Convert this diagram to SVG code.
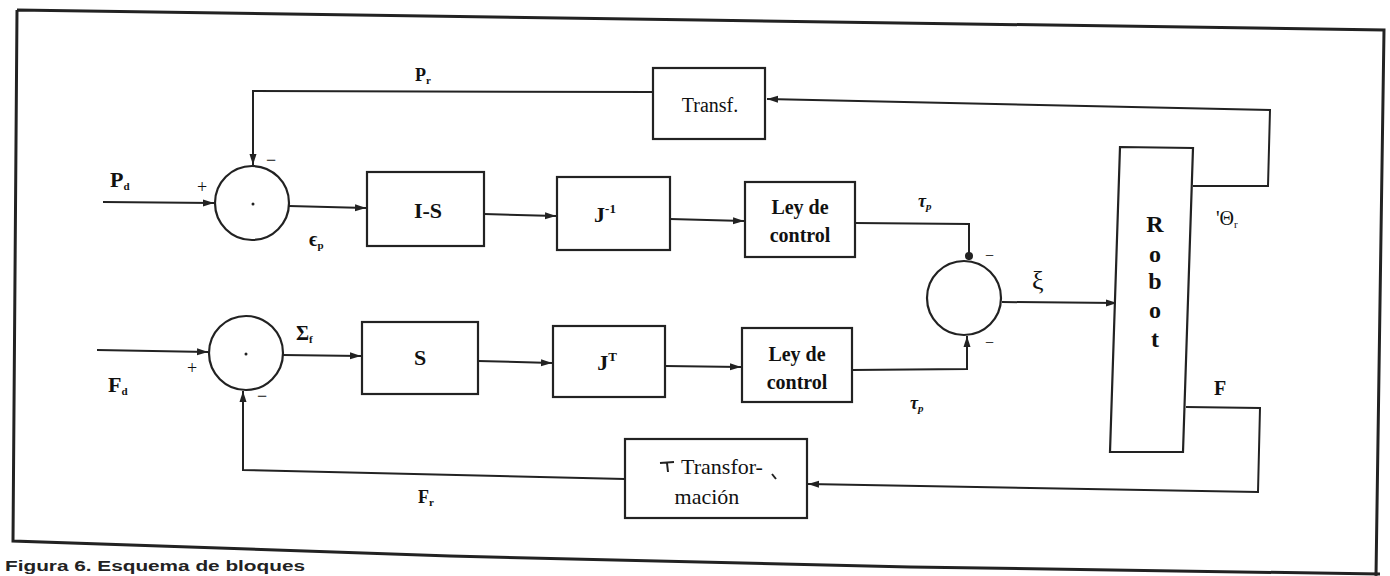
<svg xmlns="http://www.w3.org/2000/svg" width="1390" height="576" viewBox="0 0 1390 576">
<defs>
<marker id="arr" markerUnits="userSpaceOnUse" markerWidth="12" markerHeight="8" refX="11" refY="4" orient="auto">
<path d="M0,0.5 L11,4 L0,7.5 z" fill="#222"/>
</marker>
<style>
.ln{fill:none;stroke:#222;stroke-width:2}
.box{fill:#fff;stroke:#222;stroke-width:2.2}
.frame{fill:none;stroke:#222;stroke-width:3}
.t{font-family:"Liberation Serif",serif;fill:#111}
.b{font-weight:bold}
.lbl{font-family:"Liberation Serif",serif;fill:#111;font-weight:bold}
.sub{font-size:11px}
</style>
</defs>
<rect width="1390" height="576" fill="#fff"/>
<path class="frame" d="M17,10 L700,20 L1384,30 L1376,576 M17,10 L13,541 L450,556 L910,567 L1380,574"/>
<g id="connectors">
<path class="ln" d="M103,202 L214,203" marker-end="url(#arr)"/>
<path class="ln" d="M1193,186 L1268,186 L1270,110 L767,99" marker-end="url(#arr)"/>
<path class="ln" d="M653,92 L253,91 L253,165" marker-end="url(#arr)"/>
<path class="ln" d="M289,206 L366,208" marker-end="url(#arr)"/>
<path class="ln" d="M484,214 L556,216" marker-end="url(#arr)"/>
<path class="ln" d="M670,219 L744,221" marker-end="url(#arr)"/>
<path class="ln" d="M855,223 L969,224 L969,260"/>
<circle cx="969" cy="256" r="4" fill="#222"/>
<path class="ln" d="M852,370 L967,369 L967,336" marker-end="url(#arr)"/>
<path class="ln" d="M1002,302 L1117,303" marker-end="url(#arr)"/>
<path class="ln" d="M97,350 L208,352" marker-end="url(#arr)"/>
<path class="ln" d="M283,355 L361,356" marker-end="url(#arr)"/>
<path class="ln" d="M478,361 L552,363" marker-end="url(#arr)"/>
<path class="ln" d="M665,366 L741,367" marker-end="url(#arr)"/>
<path class="ln" d="M1186,407 L1260,408 L1258,492 L808,484" marker-end="url(#arr)"/>
<path class="ln" d="M625,479 L243,470 L243,391" marker-end="url(#arr)"/>
</g>
<g id="sum1">
<circle class="box" cx="252" cy="203" r="37"/>
<circle cx="253" cy="204" r="1.5" fill="#222"/>
</g>
<g id="sum2">
<circle class="box" cx="246" cy="353" r="37"/>
<circle cx="246" cy="354" r="1.5" fill="#222"/>
</g>
<g id="sum3">
<circle class="box" cx="964" cy="298" r="37"/>
</g>
<g id="transf">
<rect class="box" x="653" y="68" width="112" height="71"/>
<text class="t" x="710" y="112" font-size="20" text-anchor="middle">Transf.</text>
</g>
<g id="is">
<rect class="box" x="367" y="172" width="117" height="74"/>
<text class="t b" x="428" y="218" font-size="22" text-anchor="middle">I-S</text>
</g>
<g id="jinv">
<rect class="box" x="557" y="177" width="113" height="73"/>
<text class="t b" x="605" y="222" font-size="22" text-anchor="middle">J<tspan font-size="13" dy="-9">-1</tspan></text>
</g>
<g id="ley1">
<rect class="box" x="745" y="182" width="110" height="75"/>
<text class="t b" x="800" y="214" font-size="20" text-anchor="middle">Ley de</text>
<text class="t b" x="800" y="242" font-size="20" text-anchor="middle">control</text>
</g>
<g id="s">
<rect class="box" x="362" y="322" width="116" height="72"/>
<text class="t b" x="420" y="365" font-size="22" text-anchor="middle">S</text>
</g>
<g id="jt">
<rect class="box" x="553" y="326" width="112" height="71"/>
<text class="t b" x="607" y="370" font-size="22" text-anchor="middle">J<tspan font-size="13" dy="-9">T</tspan></text>
</g>
<g id="ley2">
<rect class="box" x="742" y="328" width="110" height="74"/>
<text class="t b" x="797" y="361" font-size="20" text-anchor="middle">Ley de</text>
<text class="t b" x="797" y="389" font-size="20" text-anchor="middle">control</text>
</g>
<g id="transformacion">
<rect class="box" x="625" y="439" width="182" height="79"/>
<path class="ln" d="M660,463 L674,462 M667,463 L668,472 M772,474 L776,479" stroke-width="1.3"/>
<text class="t" x="722" y="474" font-size="22" text-anchor="middle">Transfor-</text>
<text class="t" x="707" y="504" font-size="22" text-anchor="middle">mación</text>
</g>
<g id="robot">
<path class="box" d="M1120,147 L1193,148 L1183,452 L1110,452 z"/>
<text class="t b" x="1155" y="232" font-size="24" text-anchor="middle">R</text>
<text class="t b" x="1155" y="262" font-size="24" text-anchor="middle">o</text>
<text class="t b" x="1155" y="289" font-size="24" text-anchor="middle">b</text>
<text class="t b" x="1155" y="318" font-size="24" text-anchor="middle">o</text>
<text class="t b" x="1155" y="347" font-size="24" text-anchor="middle">t</text>
</g>
<g id="labels">
<text class="lbl" x="415" y="81" font-size="18">P<tspan class="sub" dy="3">r</tspan></text>
<text class="lbl" x="110" y="187" font-size="22">P<tspan class="sub" dy="3">d</tspan></text>
<text class="t" x="197" y="193" font-size="18">+</text>
<text class="t" x="266" y="166" font-size="18">−</text>
<text class="lbl" x="309" y="246" font-size="20">ϵ<tspan class="sub" dy="3">p</tspan></text>
<text class="lbl" x="296" y="340" font-size="20">Σ<tspan class="sub" dy="3">f</tspan></text>
<text class="lbl" x="108" y="392" font-size="22">F<tspan class="sub" dy="3">d</tspan></text>
<text class="t" x="187" y="374" font-size="18">+</text>
<text class="t" x="257" y="402" font-size="18">−</text>
<text class="t b" x="918" y="207" font-size="18" font-style="italic">τ<tspan class="sub" dy="3">p</tspan></text>
<text class="t b" x="910" y="409" font-size="18" font-style="italic">τ<tspan class="sub" dy="3">p</tspan></text>
<text class="t" x="985" y="261" font-size="16">−</text>
<text class="t" x="985" y="348" font-size="16">−</text>
<text class="t" x="1032" y="289" font-size="26">ξ</text>
<text class="t" x="1216" y="225" font-size="20">'Θ<tspan class="sub" dy="3">r</tspan></text>
<text class="lbl" x="1214" y="395" font-size="20">F</text>
<text class="lbl" x="418" y="503" font-size="18">F<tspan class="sub" dy="3">r</tspan></text>
</g>
<text x="5" y="571" font-family="Liberation Sans,sans-serif" font-weight="bold" font-size="14" fill="#222" textLength="300" lengthAdjust="spacingAndGlyphs">Figura 6. Esquema de bloques</text>
</svg>
